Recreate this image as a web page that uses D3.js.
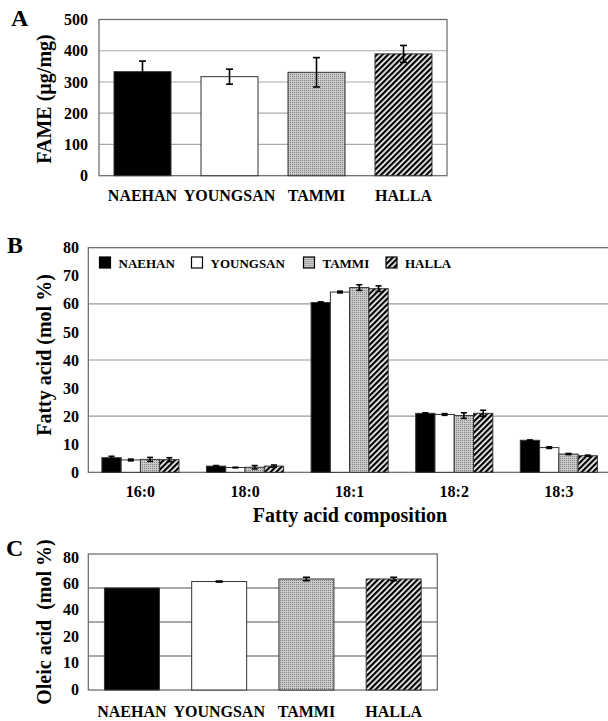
<!DOCTYPE html>
<html>
<head>
<meta charset="utf-8">
<script src="https://cdn.jsdelivr.net/npm/d3@7"></script>
<style>
  body { margin: 0; background: #fff; }
  svg { display: block; }
  text { font-family: "Liberation Serif", "Times New Roman", serif; font-weight: bold; fill: #000; }
</style>
</head>
<body>
<script>
// panel A - total FAME
const cultivars = ["NAEHAN", "YOUNGSAN", "TAMMI", "HALLA"]
const fameMean = [333, 317, 331, 390]
const fameErr = [34, 24, 47, 27]
const fameTicks = [0, 100, 200, 300, 400, 500]

// panel B - fatty acid composition
const fattyAcids = ["16:0", "18:0", "18:1", "18:2", "18:3"]
const molNaehan = [5.2, 2.2, 60.5, 21.0, 11.4]
const molYoungsan = [4.4, 1.7, 64.2, 20.6, 8.8]
const molTammi = [4.6, 1.8, 65.8, 20.2, 6.5]
const molHalla = [4.5, 2.2, 65.4, 21.0, 5.9]
const errNaehan = [0.5, 0.2, 0.2, 0.2, 0.1]
const errYoungsan = [0.3, 0.1, 0.3, 0.3, 0.3]
const errTammi = [0.7, 0.6, 1.0, 1.0, 0.2]
const errHalla = [0.7, 0.4, 1.0, 1.1, 0.2]
const molTicks = [0, 10, 20, 30, 40, 50, 60, 70, 80]
const molGrid = [20, 40, 60]

// panel C - oleic acid
const oleicMean = [60.0, 63.8, 65.3, 65.3]
const oleicErr = [0, 0.3, 1.0, 1.0]
const oleicTickLabels = ["0", "10", "20", "40", "60", "80"]
const oleicGrid = [20, 40, 60]

const fills = ["#000", "#fff", "url(#tammi)", "url(#halla)"]

let svg = d3.select("body").append("svg")
    .attr("width", 608)
    .attr("height", 721)

let defs = svg.append("defs")
let pt = defs.append("pattern")
    .attr("id", "tammi")
    .attr("patternUnits", "userSpaceOnUse")
    .attr("width", 2).attr("height", 2)
pt.append("rect").attr("width", 2).attr("height", 2).attr("fill", "#cbcbcb")
pt.append("rect").attr("width", 1).attr("height", 1).attr("fill", "#7e7e7e")

let ph = defs.append("pattern")
    .attr("id", "halla")
    .attr("patternUnits", "userSpaceOnUse")
    .attr("width", 4).attr("height", 4)
    .attr("patternTransform", "rotate(45)")
ph.append("rect").attr("width", 4).attr("height", 4).attr("fill", "#fff")
ph.append("rect").attr("width", 2.3).attr("height", 4).attr("fill", "#000")

function errBar(g, x, y0, y1, cap) {
    g.append("line").attr("x1", x).attr("x2", x).attr("y1", y0).attr("y2", y1)
        .attr("stroke", "#000").attr("stroke-width", 1.6)
    for (let y of [y0, y1]) {
        g.append("line").attr("x1", x - cap).attr("x2", x + cap).attr("y1", y).attr("y2", y)
            .attr("stroke", "#000").attr("stroke-width", 1.6)
    }
}

function frame(g, x0, x1, y0, y1) {
    g.append("rect")
        .attr("x", x0).attr("y", y0)
        .attr("width", x1 - x0).attr("height", y1 - y0)
        .attr("fill", "none").attr("stroke", "#666").attr("stroke-width", 1.2)
}

// ---------- A ----------
let gA = svg.append("g")
let xA = d3.scaleBand().domain(cultivars).range([99, 447]).paddingInner(0.345).paddingOuter(0.1725)
let yA = d3.scaleLinear().domain([0, 500]).range([175.7, 19.5])

gA.selectAll(".grid").data(fameTicks.slice(1, -1)).enter().append("line")
    .attr("x1", 99).attr("x2", 447)
    .attr("y1", d => yA(d)).attr("y2", d => yA(d))
    .attr("stroke", "#aaa").attr("stroke-width", 1.2)
frame(gA, 99, 447, yA(500), yA(0))

gA.selectAll(".bar").data(cultivars).enter().append("rect")
    .attr("x", d => xA(d))
    .attr("y", (d, i) => yA(fameMean[i]))
    .attr("width", xA.bandwidth())
    .attr("height", (d, i) => yA(0) - yA(fameMean[i]))
    .attr("fill", (d, i) => fills[i])
    .attr("stroke", "#333").attr("stroke-width", 1)
cultivars.forEach((c, i) => errBar(gA, xA(c) + xA.bandwidth() / 2,
    yA(fameMean[i] + fameErr[i]), yA(fameMean[i] - fameErr[i]), 3.5))

gA.selectAll(".yt").data(fameTicks).enter().append("text")
    .attr("x", 88).attr("y", d => yA(d)).attr("dy", "0.35em")
    .attr("text-anchor", "end").style("font-size", "16px")
    .text(d => d)
gA.selectAll(".xt").data(cultivars).enter().append("text")
    .attr("x", d => xA(d) + xA.bandwidth() / 2).attr("y", 201)
    .attr("text-anchor", "middle").style("font-size", "16px")
    .text(d => d)
gA.append("text")
    .attr("transform", "translate(51,99) rotate(-90)")
    .attr("text-anchor", "middle").style("font-size", "20px")
    .text("FAME (µg/mg)")
gA.append("text").attr("x", 11).attr("y", 26).style("font-size", "24px").text("A")

// ---------- B ----------
let gB = svg.append("g")
let series = [molNaehan, molYoungsan, molTammi, molHalla]
let errs = [errNaehan, errYoungsan, errTammi, errHalla]
let xB = d3.scaleBand().domain(fattyAcids).range([88.3, 611]).paddingInner(0.263).paddingOuter(0.13)
let xB1 = d3.scaleBand().domain(cultivars).range([0, xB.bandwidth()])
let yB = d3.scaleLinear().domain([0, 80]).range([472.3, 247.7])

gB.selectAll(".grid").data(molGrid).enter().append("line")
    .attr("x1", 88.3).attr("x2", 611)
    .attr("y1", d => yB(d)).attr("y2", d => yB(d))
    .attr("stroke", "#999").attr("stroke-width", 1.2)
frame(gB, 88.3, 611, yB(80), yB(0))

cultivars.forEach((c, k) => {
    gB.selectAll(".bar" + k).data(fattyAcids).enter().append("rect")
        .attr("x", d => xB(d) + xB1(c))
        .attr("y", (d, i) => yB(series[k][i]))
        .attr("width", xB1.bandwidth())
        .attr("height", (d, i) => yB(0) - yB(series[k][i]))
        .attr("fill", fills[k])
        .attr("stroke", "#333").attr("stroke-width", 1)
    fattyAcids.forEach((f, i) => errBar(gB, xB(f) + xB1(c) + xB1.bandwidth() / 2,
        yB(series[k][i] + errs[k][i]), yB(series[k][i] - errs[k][i]), 3))
})

gB.selectAll(".yt").data(molTicks).enter().append("text")
    .attr("x", 79).attr("y", d => yB(d)).attr("dy", "0.35em")
    .attr("text-anchor", "end").style("font-size", "16px")
    .text(d => d)
gB.selectAll(".xt").data(fattyAcids).enter().append("text")
    .attr("x", d => xB(d) + xB.bandwidth() / 2).attr("y", 497)
    .attr("text-anchor", "middle").style("font-size", "16px")
    .text(d => d)
gB.append("text")
    .attr("x", 350).attr("y", 522)
    .attr("text-anchor", "middle").style("font-size", "20px")
    .text("Fatty acid composition")
gB.append("text")
    .attr("transform", "translate(51,355) rotate(-90)")
    .attr("text-anchor", "middle").style("font-size", "20px")
    .text("Fatty acid (mol %)")
gB.append("text").attr("x", 7).attr("y", 253).style("font-size", "24px").text("B")

// legend
let legX = [99.5, 191.5, 303.5, 386]
let leg = gB.selectAll(".leg").data(cultivars).enter().append("g")
    .attr("transform", (d, i) => `translate(${legX[i]},257)`)
leg.append("rect")
    .attr("width", 11).attr("height", 11)
    .attr("fill", (d, i) => fills[i])
    .attr("stroke", "#000").attr("stroke-width", 1.2)
leg.append("text")
    .attr("x", 19).attr("y", 10.5)
    .style("font-size", "13px")
    .text(d => d)

// ---------- C ----------
let gC = svg.append("g")
let xC = d3.scaleBand().domain(cultivars).range([88.3, 437.3]).paddingInner(0.37).paddingOuter(0.185)
let yC = d3.scaleLinear().domain([0, 80]).range([690, 554])
let yCLab = d3.scalePoint().domain(oleicTickLabels).range([689, 557])

gC.selectAll(".grid").data(oleicGrid).enter().append("line")
    .attr("x1", 88.3).attr("x2", 437.3)
    .attr("y1", d => yC(d)).attr("y2", d => yC(d))
    .attr("stroke", "#555").attr("stroke-width", 1.2)
frame(gC, 88.3, 437.3, yC(80), yC(0))

gC.selectAll(".bar").data(cultivars).enter().append("rect")
    .attr("x", d => xC(d))
    .attr("y", (d, i) => yC(oleicMean[i]))
    .attr("width", xC.bandwidth())
    .attr("height", (d, i) => yC(0) - yC(oleicMean[i]))
    .attr("fill", (d, i) => fills[i])
    .attr("stroke", "#333").attr("stroke-width", 1)
cultivars.forEach((c, i) => {
    if (oleicErr[i] > 0) errBar(gC, xC(c) + xC.bandwidth() / 2,
        yC(oleicMean[i] + oleicErr[i]), yC(oleicMean[i] - oleicErr[i]), 3.5)
})

gC.selectAll(".yt").data(oleicTickLabels).enter().append("text")
    .attr("x", 79).attr("y", d => yCLab(d)).attr("dy", "0.35em")
    .attr("text-anchor", "end").style("font-size", "16px")
    .text(d => d)
gC.selectAll(".xt").data(cultivars).enter().append("text")
    .attr("x", d => xC(d) + xC.bandwidth() / 2).attr("y", 717)
    .attr("text-anchor", "middle").style("font-size", "16px")
    .text(d => d)
gC.append("text")
    .attr("transform", "translate(51,622) rotate(-90)")
    .attr("text-anchor", "middle").style("font-size", "20px").style("white-space", "pre")
    .text("Oleic acid  (mol %)")
gC.append("text").attr("x", 6).attr("y", 556).style("font-size", "24px").text("C")
</script>
</body>
</html>
